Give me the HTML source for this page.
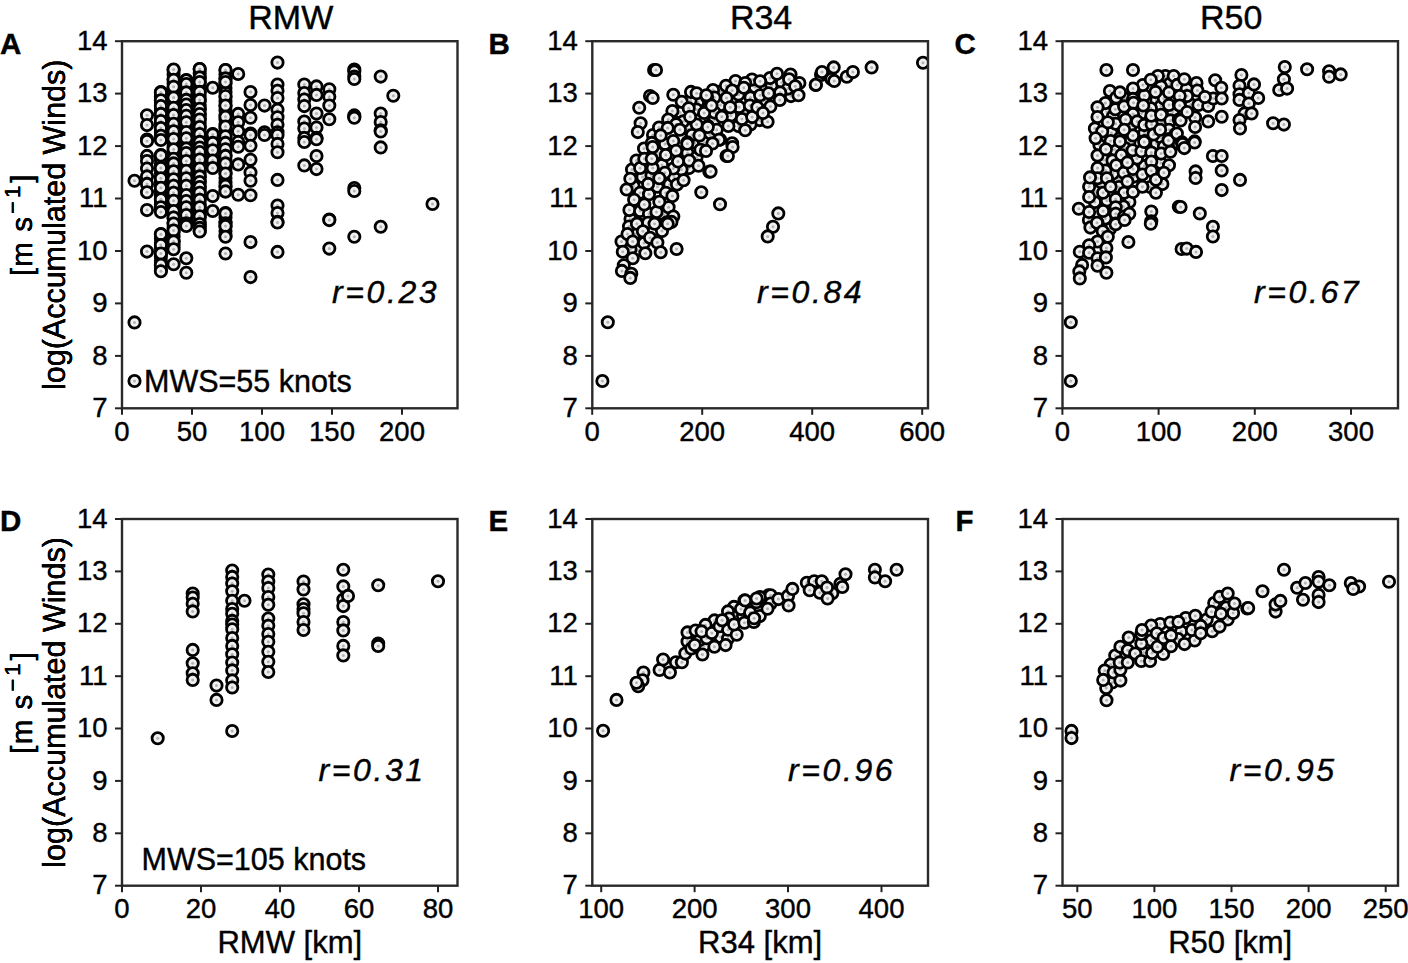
<!DOCTYPE html><html><head><meta charset="utf-8"><style>html,body{margin:0;padding:0;background:#fff;}svg{display:block;}text{font-family:"Liberation Sans",sans-serif;fill:#000;stroke:#000;stroke-width:0.4px;}</style></head><body>
<svg width="1408" height="963" viewBox="0 0 1408 963">
<defs><g id="m"><circle r="5.65" fill="#f0f0f0" stroke="#000" stroke-width="2.8"/><circle r="1.5" fill="#b4b4b4"/></g></defs>
<clipPath id="cA"><rect x="122.0" y="41.2" width="335.5" height="367.1"/></clipPath>
<g clip-path="url(#cA)">
<use href="#m" x="160.9" y="92.0"/>
<use href="#m" x="160.9" y="96.5"/>
<use href="#m" x="160.9" y="101.0"/>
<use href="#m" x="160.9" y="105.5"/>
<use href="#m" x="160.9" y="110.0"/>
<use href="#m" x="160.9" y="114.5"/>
<use href="#m" x="160.9" y="119.0"/>
<use href="#m" x="160.9" y="123.5"/>
<use href="#m" x="160.9" y="128.0"/>
<use href="#m" x="160.9" y="132.5"/>
<use href="#m" x="160.9" y="137.0"/>
<use href="#m" x="160.9" y="155.0"/>
<use href="#m" x="160.9" y="159.5"/>
<use href="#m" x="160.9" y="164.0"/>
<use href="#m" x="160.9" y="168.5"/>
<use href="#m" x="160.9" y="173.0"/>
<use href="#m" x="160.9" y="177.5"/>
<use href="#m" x="160.9" y="182.0"/>
<use href="#m" x="160.9" y="186.5"/>
<use href="#m" x="160.9" y="191.0"/>
<use href="#m" x="160.9" y="195.5"/>
<use href="#m" x="160.9" y="200.0"/>
<use href="#m" x="160.9" y="204.5"/>
<use href="#m" x="160.9" y="209.0"/>
<use href="#m" x="160.9" y="234.0"/>
<use href="#m" x="160.9" y="238.5"/>
<use href="#m" x="160.9" y="243.0"/>
<use href="#m" x="160.9" y="247.5"/>
<use href="#m" x="160.9" y="252.0"/>
<use href="#m" x="160.9" y="256.5"/>
<use href="#m" x="160.9" y="261.0"/>
<use href="#m" x="160.9" y="265.5"/>
<use href="#m" x="160.9" y="270.0"/>
<use href="#m" x="173.6" y="70.0"/>
<use href="#m" x="173.6" y="74.5"/>
<use href="#m" x="173.6" y="79.0"/>
<use href="#m" x="173.6" y="83.5"/>
<use href="#m" x="173.6" y="88.0"/>
<use href="#m" x="173.6" y="92.5"/>
<use href="#m" x="173.6" y="97.0"/>
<use href="#m" x="173.6" y="101.5"/>
<use href="#m" x="173.6" y="106.0"/>
<use href="#m" x="173.6" y="110.5"/>
<use href="#m" x="173.6" y="115.0"/>
<use href="#m" x="173.6" y="119.5"/>
<use href="#m" x="173.6" y="124.0"/>
<use href="#m" x="173.6" y="128.5"/>
<use href="#m" x="173.6" y="133.0"/>
<use href="#m" x="173.6" y="137.5"/>
<use href="#m" x="173.6" y="142.0"/>
<use href="#m" x="173.6" y="146.5"/>
<use href="#m" x="173.6" y="151.0"/>
<use href="#m" x="173.6" y="155.5"/>
<use href="#m" x="173.6" y="160.0"/>
<use href="#m" x="173.6" y="164.5"/>
<use href="#m" x="173.6" y="169.0"/>
<use href="#m" x="173.6" y="173.5"/>
<use href="#m" x="173.6" y="178.0"/>
<use href="#m" x="173.6" y="182.5"/>
<use href="#m" x="173.6" y="187.0"/>
<use href="#m" x="173.6" y="191.5"/>
<use href="#m" x="173.6" y="196.0"/>
<use href="#m" x="173.6" y="200.5"/>
<use href="#m" x="173.6" y="205.0"/>
<use href="#m" x="173.6" y="209.5"/>
<use href="#m" x="173.6" y="214.0"/>
<use href="#m" x="173.6" y="218.5"/>
<use href="#m" x="173.6" y="223.0"/>
<use href="#m" x="173.6" y="227.5"/>
<use href="#m" x="173.6" y="232.0"/>
<use href="#m" x="173.6" y="236.5"/>
<use href="#m" x="173.6" y="241.0"/>
<use href="#m" x="173.6" y="245.5"/>
<use href="#m" x="186.3" y="80.0"/>
<use href="#m" x="186.3" y="84.5"/>
<use href="#m" x="186.3" y="89.0"/>
<use href="#m" x="186.3" y="93.5"/>
<use href="#m" x="186.3" y="98.0"/>
<use href="#m" x="186.3" y="102.5"/>
<use href="#m" x="186.3" y="107.0"/>
<use href="#m" x="186.3" y="111.5"/>
<use href="#m" x="186.3" y="116.0"/>
<use href="#m" x="186.3" y="120.5"/>
<use href="#m" x="186.3" y="125.0"/>
<use href="#m" x="186.3" y="129.5"/>
<use href="#m" x="186.3" y="134.0"/>
<use href="#m" x="186.3" y="138.5"/>
<use href="#m" x="186.3" y="143.0"/>
<use href="#m" x="186.3" y="147.5"/>
<use href="#m" x="186.3" y="152.0"/>
<use href="#m" x="186.3" y="156.5"/>
<use href="#m" x="186.3" y="161.0"/>
<use href="#m" x="186.3" y="165.5"/>
<use href="#m" x="186.3" y="170.0"/>
<use href="#m" x="186.3" y="174.5"/>
<use href="#m" x="186.3" y="179.0"/>
<use href="#m" x="186.3" y="183.5"/>
<use href="#m" x="186.3" y="188.0"/>
<use href="#m" x="186.3" y="192.5"/>
<use href="#m" x="186.3" y="197.0"/>
<use href="#m" x="186.3" y="201.5"/>
<use href="#m" x="186.3" y="206.0"/>
<use href="#m" x="186.3" y="210.5"/>
<use href="#m" x="186.3" y="215.0"/>
<use href="#m" x="186.3" y="219.5"/>
<use href="#m" x="186.3" y="224.0"/>
<use href="#m" x="199.7" y="69.0"/>
<use href="#m" x="199.7" y="73.5"/>
<use href="#m" x="199.7" y="78.0"/>
<use href="#m" x="199.7" y="82.5"/>
<use href="#m" x="199.7" y="87.0"/>
<use href="#m" x="199.7" y="91.5"/>
<use href="#m" x="199.7" y="96.0"/>
<use href="#m" x="199.7" y="100.5"/>
<use href="#m" x="199.7" y="105.0"/>
<use href="#m" x="199.7" y="109.5"/>
<use href="#m" x="199.7" y="114.0"/>
<use href="#m" x="199.7" y="118.5"/>
<use href="#m" x="199.7" y="123.0"/>
<use href="#m" x="199.7" y="127.5"/>
<use href="#m" x="199.7" y="132.0"/>
<use href="#m" x="199.7" y="136.5"/>
<use href="#m" x="199.7" y="141.0"/>
<use href="#m" x="199.7" y="145.5"/>
<use href="#m" x="199.7" y="150.0"/>
<use href="#m" x="199.7" y="154.5"/>
<use href="#m" x="199.7" y="159.0"/>
<use href="#m" x="199.7" y="163.5"/>
<use href="#m" x="199.7" y="168.0"/>
<use href="#m" x="199.7" y="172.5"/>
<use href="#m" x="199.7" y="177.0"/>
<use href="#m" x="199.7" y="181.5"/>
<use href="#m" x="199.7" y="186.0"/>
<use href="#m" x="199.7" y="190.5"/>
<use href="#m" x="199.7" y="195.0"/>
<use href="#m" x="199.7" y="199.5"/>
<use href="#m" x="199.7" y="204.0"/>
<use href="#m" x="199.7" y="208.5"/>
<use href="#m" x="199.7" y="213.0"/>
<use href="#m" x="199.7" y="217.5"/>
<use href="#m" x="199.7" y="222.0"/>
<use href="#m" x="199.7" y="226.5"/>
<use href="#m" x="199.7" y="231.0"/>
<use href="#m" x="225.5" y="70.0"/>
<use href="#m" x="225.5" y="74.5"/>
<use href="#m" x="225.5" y="79.0"/>
<use href="#m" x="225.5" y="83.5"/>
<use href="#m" x="225.5" y="88.0"/>
<use href="#m" x="225.5" y="92.5"/>
<use href="#m" x="225.5" y="97.0"/>
<use href="#m" x="225.5" y="101.5"/>
<use href="#m" x="225.5" y="106.0"/>
<use href="#m" x="225.5" y="110.5"/>
<use href="#m" x="225.5" y="115.0"/>
<use href="#m" x="225.5" y="119.5"/>
<use href="#m" x="225.5" y="124.0"/>
<use href="#m" x="225.5" y="128.5"/>
<use href="#m" x="225.5" y="133.0"/>
<use href="#m" x="225.5" y="137.5"/>
<use href="#m" x="225.5" y="142.0"/>
<use href="#m" x="225.5" y="146.5"/>
<use href="#m" x="225.5" y="151.0"/>
<use href="#m" x="225.5" y="155.5"/>
<use href="#m" x="225.5" y="160.0"/>
<use href="#m" x="225.5" y="164.5"/>
<use href="#m" x="225.5" y="169.0"/>
<use href="#m" x="225.5" y="173.5"/>
<use href="#m" x="225.5" y="178.0"/>
<use href="#m" x="225.5" y="182.5"/>
<use href="#m" x="225.5" y="187.0"/>
<use href="#m" x="225.5" y="191.5"/>
<use href="#m" x="225.5" y="213.0"/>
<use href="#m" x="225.5" y="217.5"/>
<use href="#m" x="225.5" y="222.0"/>
<use href="#m" x="225.5" y="226.5"/>
<use href="#m" x="225.5" y="231.0"/>
<use href="#m" x="225.5" y="235.5"/>
<use href="#m" x="212.7" y="134.0"/>
<use href="#m" x="212.7" y="138.5"/>
<use href="#m" x="212.7" y="143.0"/>
<use href="#m" x="212.7" y="147.5"/>
<use href="#m" x="212.7" y="152.0"/>
<use href="#m" x="212.7" y="156.5"/>
<use href="#m" x="212.7" y="161.0"/>
<use href="#m" x="212.7" y="165.5"/>
<use href="#m" x="134.5" y="180.7"/>
<use href="#m" x="134.5" y="322.4"/>
<use href="#m" x="134.5" y="381.0"/>
<use href="#m" x="147.0" y="115.3"/>
<use href="#m" x="147.0" y="125.1"/>
<use href="#m" x="147.0" y="139.6"/>
<use href="#m" x="147.0" y="140.9"/>
<use href="#m" x="147.0" y="155.9"/>
<use href="#m" x="147.0" y="161.0"/>
<use href="#m" x="147.0" y="168.5"/>
<use href="#m" x="147.0" y="176.4"/>
<use href="#m" x="147.0" y="183.9"/>
<use href="#m" x="147.0" y="192.3"/>
<use href="#m" x="147.0" y="210.1"/>
<use href="#m" x="147.0" y="251.6"/>
<use href="#m" x="160.9" y="92.4"/>
<use href="#m" x="160.9" y="100.3"/>
<use href="#m" x="160.9" y="106.0"/>
<use href="#m" x="160.9" y="113.9"/>
<use href="#m" x="160.9" y="121.0"/>
<use href="#m" x="160.9" y="128.0"/>
<use href="#m" x="160.9" y="135.8"/>
<use href="#m" x="160.9" y="140.0"/>
<use href="#m" x="160.9" y="155.4"/>
<use href="#m" x="160.9" y="168.0"/>
<use href="#m" x="160.9" y="178.3"/>
<use href="#m" x="160.9" y="187.7"/>
<use href="#m" x="160.9" y="199.3"/>
<use href="#m" x="160.9" y="207.3"/>
<use href="#m" x="160.9" y="212.0"/>
<use href="#m" x="160.9" y="234.3"/>
<use href="#m" x="160.9" y="245.1"/>
<use href="#m" x="160.9" y="253.5"/>
<use href="#m" x="160.9" y="264.7"/>
<use href="#m" x="160.9" y="271.3"/>
<use href="#m" x="173.6" y="69.5"/>
<use href="#m" x="173.6" y="79.8"/>
<use href="#m" x="173.6" y="86.8"/>
<use href="#m" x="173.6" y="97.5"/>
<use href="#m" x="173.6" y="107.8"/>
<use href="#m" x="173.6" y="115.0"/>
<use href="#m" x="173.6" y="123.7"/>
<use href="#m" x="173.6" y="131.2"/>
<use href="#m" x="173.6" y="139.1"/>
<use href="#m" x="173.6" y="149.3"/>
<use href="#m" x="173.6" y="158.7"/>
<use href="#m" x="173.6" y="163.4"/>
<use href="#m" x="173.6" y="171.3"/>
<use href="#m" x="173.6" y="179.3"/>
<use href="#m" x="173.6" y="185.8"/>
<use href="#m" x="173.6" y="192.8"/>
<use href="#m" x="173.6" y="200.7"/>
<use href="#m" x="173.6" y="211.0"/>
<use href="#m" x="173.6" y="217.6"/>
<use href="#m" x="173.6" y="223.6"/>
<use href="#m" x="173.6" y="230.6"/>
<use href="#m" x="173.6" y="241.4"/>
<use href="#m" x="173.6" y="249.3"/>
<use href="#m" x="173.6" y="264.3"/>
<use href="#m" x="186.3" y="80.2"/>
<use href="#m" x="186.3" y="84.0"/>
<use href="#m" x="186.3" y="92.4"/>
<use href="#m" x="186.3" y="99.9"/>
<use href="#m" x="186.3" y="104.5"/>
<use href="#m" x="186.3" y="110.0"/>
<use href="#m" x="186.3" y="115.7"/>
<use href="#m" x="186.3" y="122.3"/>
<use href="#m" x="186.3" y="132.1"/>
<use href="#m" x="186.3" y="138.2"/>
<use href="#m" x="186.3" y="148.4"/>
<use href="#m" x="186.3" y="153.1"/>
<use href="#m" x="186.3" y="161.0"/>
<use href="#m" x="186.3" y="170.8"/>
<use href="#m" x="186.3" y="178.3"/>
<use href="#m" x="186.3" y="185.8"/>
<use href="#m" x="186.3" y="195.1"/>
<use href="#m" x="186.3" y="201.0"/>
<use href="#m" x="186.3" y="207.3"/>
<use href="#m" x="186.3" y="215.0"/>
<use href="#m" x="186.3" y="223.2"/>
<use href="#m" x="186.3" y="225.9"/>
<use href="#m" x="186.3" y="258.2"/>
<use href="#m" x="186.3" y="272.7"/>
<use href="#m" x="199.7" y="69.0"/>
<use href="#m" x="199.7" y="77.4"/>
<use href="#m" x="199.7" y="82.1"/>
<use href="#m" x="199.7" y="91.9"/>
<use href="#m" x="199.7" y="99.9"/>
<use href="#m" x="199.7" y="108.7"/>
<use href="#m" x="199.7" y="114.0"/>
<use href="#m" x="199.7" y="119.5"/>
<use href="#m" x="199.7" y="127.0"/>
<use href="#m" x="199.7" y="134.0"/>
<use href="#m" x="199.7" y="141.9"/>
<use href="#m" x="199.7" y="147.5"/>
<use href="#m" x="199.7" y="152.1"/>
<use href="#m" x="199.7" y="159.6"/>
<use href="#m" x="199.7" y="168.5"/>
<use href="#m" x="199.7" y="176.4"/>
<use href="#m" x="199.7" y="182.1"/>
<use href="#m" x="199.7" y="187.0"/>
<use href="#m" x="199.7" y="192.8"/>
<use href="#m" x="199.7" y="199.8"/>
<use href="#m" x="199.7" y="207.3"/>
<use href="#m" x="199.7" y="216.2"/>
<use href="#m" x="199.7" y="224.1"/>
<use href="#m" x="199.7" y="227.9"/>
<use href="#m" x="199.7" y="231.5"/>
<use href="#m" x="212.7" y="87.7"/>
<use href="#m" x="212.7" y="134.4"/>
<use href="#m" x="212.7" y="142.9"/>
<use href="#m" x="212.7" y="150.3"/>
<use href="#m" x="212.7" y="160.6"/>
<use href="#m" x="212.7" y="168.0"/>
<use href="#m" x="212.7" y="196.1"/>
<use href="#m" x="212.7" y="211.0"/>
<use href="#m" x="225.5" y="70.0"/>
<use href="#m" x="225.5" y="78.4"/>
<use href="#m" x="225.5" y="82.1"/>
<use href="#m" x="225.5" y="96.1"/>
<use href="#m" x="225.5" y="105.5"/>
<use href="#m" x="225.5" y="116.7"/>
<use href="#m" x="225.5" y="126.5"/>
<use href="#m" x="225.5" y="136.3"/>
<use href="#m" x="225.5" y="142.9"/>
<use href="#m" x="225.5" y="149.3"/>
<use href="#m" x="225.5" y="155.9"/>
<use href="#m" x="225.5" y="163.4"/>
<use href="#m" x="225.5" y="173.6"/>
<use href="#m" x="225.5" y="185.8"/>
<use href="#m" x="225.5" y="191.4"/>
<use href="#m" x="225.5" y="213.4"/>
<use href="#m" x="225.5" y="223.2"/>
<use href="#m" x="225.5" y="225.9"/>
<use href="#m" x="225.5" y="236.7"/>
<use href="#m" x="225.5" y="253.5"/>
<use href="#m" x="238.2" y="74.0"/>
<use href="#m" x="238.2" y="113.9"/>
<use href="#m" x="238.2" y="122.3"/>
<use href="#m" x="238.2" y="131.2"/>
<use href="#m" x="238.2" y="141.9"/>
<use href="#m" x="238.2" y="146.7"/>
<use href="#m" x="238.2" y="164.4"/>
<use href="#m" x="238.2" y="194.8"/>
<use href="#m" x="250.5" y="92.1"/>
<use href="#m" x="250.5" y="105.1"/>
<use href="#m" x="250.5" y="117.8"/>
<use href="#m" x="250.5" y="133.6"/>
<use href="#m" x="250.5" y="135.0"/>
<use href="#m" x="250.5" y="145.7"/>
<use href="#m" x="250.5" y="159.8"/>
<use href="#m" x="250.5" y="172.4"/>
<use href="#m" x="250.5" y="180.8"/>
<use href="#m" x="250.5" y="195.3"/>
<use href="#m" x="250.5" y="242.1"/>
<use href="#m" x="250.5" y="277.1"/>
<use href="#m" x="264.5" y="105.6"/>
<use href="#m" x="264.5" y="132.2"/>
<use href="#m" x="264.5" y="135.0"/>
<use href="#m" x="277.5" y="62.6"/>
<use href="#m" x="277.5" y="84.6"/>
<use href="#m" x="277.5" y="90.7"/>
<use href="#m" x="277.5" y="98.1"/>
<use href="#m" x="277.5" y="109.8"/>
<use href="#m" x="277.5" y="117.3"/>
<use href="#m" x="277.5" y="124.8"/>
<use href="#m" x="277.5" y="132.2"/>
<use href="#m" x="277.5" y="135.0"/>
<use href="#m" x="277.5" y="143.9"/>
<use href="#m" x="277.5" y="152.3"/>
<use href="#m" x="277.5" y="179.9"/>
<use href="#m" x="277.5" y="205.6"/>
<use href="#m" x="277.5" y="213.0"/>
<use href="#m" x="277.5" y="221.9"/>
<use href="#m" x="277.5" y="222.5"/>
<use href="#m" x="277.5" y="251.9"/>
<use href="#m" x="304.3" y="84.6"/>
<use href="#m" x="304.3" y="93.0"/>
<use href="#m" x="304.3" y="99.5"/>
<use href="#m" x="304.3" y="106.1"/>
<use href="#m" x="304.3" y="121.5"/>
<use href="#m" x="304.3" y="128.5"/>
<use href="#m" x="304.3" y="137.9"/>
<use href="#m" x="304.3" y="142.0"/>
<use href="#m" x="304.3" y="165.4"/>
<use href="#m" x="316.5" y="86.4"/>
<use href="#m" x="316.5" y="94.9"/>
<use href="#m" x="316.5" y="113.6"/>
<use href="#m" x="316.5" y="127.6"/>
<use href="#m" x="316.5" y="137.9"/>
<use href="#m" x="316.5" y="139.2"/>
<use href="#m" x="316.5" y="156.0"/>
<use href="#m" x="316.5" y="169.1"/>
<use href="#m" x="329.3" y="89.3"/>
<use href="#m" x="329.3" y="96.7"/>
<use href="#m" x="329.3" y="105.6"/>
<use href="#m" x="329.3" y="119.2"/>
<use href="#m" x="329.3" y="219.6"/>
<use href="#m" x="329.3" y="220.1"/>
<use href="#m" x="329.3" y="248.6"/>
<use href="#m" x="354.3" y="69.6"/>
<use href="#m" x="354.3" y="71.5"/>
<use href="#m" x="354.3" y="76.6"/>
<use href="#m" x="354.3" y="79.0"/>
<use href="#m" x="354.3" y="115.4"/>
<use href="#m" x="354.3" y="116.8"/>
<use href="#m" x="354.3" y="117.8"/>
<use href="#m" x="354.3" y="188.1"/>
<use href="#m" x="354.3" y="191.0"/>
<use href="#m" x="354.3" y="236.8"/>
<use href="#m" x="380.7" y="76.6"/>
<use href="#m" x="380.7" y="113.6"/>
<use href="#m" x="380.7" y="122.0"/>
<use href="#m" x="380.7" y="130.4"/>
<use href="#m" x="380.7" y="131.5"/>
<use href="#m" x="380.7" y="147.4"/>
<use href="#m" x="380.7" y="226.7"/>
<use href="#m" x="393.3" y="95.8"/>
<use href="#m" x="432.5" y="204.0"/>
</g>
<rect x="122.0" y="41.2" width="335.5" height="367.1" fill="none" stroke="#2a2a2a" stroke-width="2.4"/>
<line x1="115.0" y1="408.3" x2="122.0" y2="408.3" stroke="#222" stroke-width="2"/>
<text x="107.5" y="416.9" font-size="27.5" text-anchor="end">7</text>
<line x1="115.0" y1="355.9" x2="122.0" y2="355.9" stroke="#222" stroke-width="2"/>
<text x="107.5" y="364.5" font-size="27.5" text-anchor="end">8</text>
<line x1="115.0" y1="303.4" x2="122.0" y2="303.4" stroke="#222" stroke-width="2"/>
<text x="107.5" y="312.0" font-size="27.5" text-anchor="end">9</text>
<line x1="115.0" y1="251.0" x2="122.0" y2="251.0" stroke="#222" stroke-width="2"/>
<text x="107.5" y="259.6" font-size="27.5" text-anchor="end">10</text>
<line x1="115.0" y1="198.5" x2="122.0" y2="198.5" stroke="#222" stroke-width="2"/>
<text x="107.5" y="207.1" font-size="27.5" text-anchor="end">11</text>
<line x1="115.0" y1="146.1" x2="122.0" y2="146.1" stroke="#222" stroke-width="2"/>
<text x="107.5" y="154.7" font-size="27.5" text-anchor="end">12</text>
<line x1="115.0" y1="93.6" x2="122.0" y2="93.6" stroke="#222" stroke-width="2"/>
<text x="107.5" y="102.2" font-size="27.5" text-anchor="end">13</text>
<line x1="115.0" y1="41.2" x2="122.0" y2="41.2" stroke="#222" stroke-width="2"/>
<text x="107.5" y="49.8" font-size="27.5" text-anchor="end">14</text>
<line x1="122.0" y1="408.3" x2="122.0" y2="414.8" stroke="#222" stroke-width="2"/>
<text x="122.0" y="440.6" font-size="27.5" text-anchor="middle">0</text>
<line x1="192.0" y1="408.3" x2="192.0" y2="414.8" stroke="#222" stroke-width="2"/>
<text x="192.0" y="440.6" font-size="27.5" text-anchor="middle">50</text>
<line x1="262.0" y1="408.3" x2="262.0" y2="414.8" stroke="#222" stroke-width="2"/>
<text x="262.0" y="440.6" font-size="27.5" text-anchor="middle">100</text>
<line x1="332.0" y1="408.3" x2="332.0" y2="414.8" stroke="#222" stroke-width="2"/>
<text x="332.0" y="440.6" font-size="27.5" text-anchor="middle">150</text>
<line x1="402.0" y1="408.3" x2="402.0" y2="414.8" stroke="#222" stroke-width="2"/>
<text x="402.0" y="440.6" font-size="27.5" text-anchor="middle">200</text>
<text transform="translate(64.5,224.8) rotate(-90)" font-size="30.5" text-anchor="middle" style="stroke-width:0.1px">log(Accumulated Winds)</text>
<text transform="translate(31.5,224.8) rotate(-90)" font-size="29.5" text-anchor="middle" letter-spacing="1.1" style="stroke-width:0.1px">[m s<tspan font-size="22" dy="-11.5" dx="2" letter-spacing="3">−1</tspan><tspan dy="11.5" dx="0">]</tspan></text>
<clipPath id="cB"><rect x="592.3" y="41.2" width="335.7" height="367.1"/></clipPath>
<g clip-path="url(#cB)">
<use href="#m" x="720.5" y="105.1"/>
<use href="#m" x="791.0" y="96.1"/>
<use href="#m" x="638.0" y="250.6"/>
<use href="#m" x="687.5" y="153.1"/>
<use href="#m" x="669.5" y="184.6"/>
<use href="#m" x="695.0" y="142.6"/>
<use href="#m" x="680.0" y="112.6"/>
<use href="#m" x="689.0" y="168.1"/>
<use href="#m" x="662.0" y="231.1"/>
<use href="#m" x="750.5" y="97.6"/>
<use href="#m" x="720.5" y="91.6"/>
<use href="#m" x="665.0" y="144.1"/>
<use href="#m" x="731.0" y="115.6"/>
<use href="#m" x="738.5" y="126.1"/>
<use href="#m" x="662.0" y="165.1"/>
<use href="#m" x="657.5" y="153.1"/>
<use href="#m" x="759.5" y="120.1"/>
<use href="#m" x="710.0" y="135.1"/>
<use href="#m" x="621.5" y="241.6"/>
<use href="#m" x="698.0" y="102.1"/>
<use href="#m" x="755.0" y="87.1"/>
<use href="#m" x="771.5" y="85.6"/>
<use href="#m" x="630.5" y="219.1"/>
<use href="#m" x="782.0" y="82.6"/>
<use href="#m" x="714.5" y="120.1"/>
<use href="#m" x="687.5" y="129.1"/>
<use href="#m" x="704.0" y="142.6"/>
<use href="#m" x="642.5" y="177.1"/>
<use href="#m" x="635.0" y="234.1"/>
<use href="#m" x="713.0" y="90.1"/>
<use href="#m" x="644.0" y="243.1"/>
<use href="#m" x="735.5" y="81.1"/>
<use href="#m" x="746.0" y="112.6"/>
<use href="#m" x="734.0" y="100.6"/>
<use href="#m" x="644.0" y="148.6"/>
<use href="#m" x="770.0" y="78.1"/>
<use href="#m" x="633.5" y="186.1"/>
<use href="#m" x="696.5" y="109.6"/>
<use href="#m" x="750.5" y="124.6"/>
<use href="#m" x="630.5" y="249.1"/>
<use href="#m" x="653.0" y="135.1"/>
<use href="#m" x="674.0" y="177.1"/>
<use href="#m" x="659.0" y="127.6"/>
<use href="#m" x="714.5" y="97.6"/>
<use href="#m" x="651.5" y="175.6"/>
<use href="#m" x="681.5" y="169.6"/>
<use href="#m" x="696.5" y="157.6"/>
<use href="#m" x="663.5" y="214.6"/>
<use href="#m" x="632.0" y="169.6"/>
<use href="#m" x="738.5" y="94.6"/>
<use href="#m" x="677.0" y="184.6"/>
<use href="#m" x="629.0" y="226.6"/>
<use href="#m" x="692.0" y="135.1"/>
<use href="#m" x="752.0" y="79.6"/>
<use href="#m" x="765.5" y="100.6"/>
<use href="#m" x="714.5" y="112.6"/>
<use href="#m" x="636.5" y="160.6"/>
<use href="#m" x="788.0" y="88.6"/>
<use href="#m" x="690.5" y="100.6"/>
<use href="#m" x="654.1" y="70.0"/>
<use href="#m" x="656.0" y="70.0"/>
<use href="#m" x="650.0" y="96.1"/>
<use href="#m" x="652.7" y="98.0"/>
<use href="#m" x="639.2" y="107.8"/>
<use href="#m" x="640.6" y="123.2"/>
<use href="#m" x="637.8" y="132.1"/>
<use href="#m" x="673.3" y="94.7"/>
<use href="#m" x="681.7" y="101.7"/>
<use href="#m" x="691.0" y="91.9"/>
<use href="#m" x="696.7" y="93.3"/>
<use href="#m" x="688.7" y="108.3"/>
<use href="#m" x="707.0" y="97.1"/>
<use href="#m" x="710.2" y="105.0"/>
<use href="#m" x="672.4" y="111.1"/>
<use href="#m" x="668.2" y="119.5"/>
<use href="#m" x="683.1" y="121.4"/>
<use href="#m" x="676.1" y="124.2"/>
<use href="#m" x="696.7" y="124.6"/>
<use href="#m" x="707.9" y="126.0"/>
<use href="#m" x="667.7" y="127.9"/>
<use href="#m" x="660.7" y="135.4"/>
<use href="#m" x="673.3" y="141.0"/>
<use href="#m" x="687.3" y="142.4"/>
<use href="#m" x="699.5" y="135.4"/>
<use href="#m" x="704.1" y="113.0"/>
<use href="#m" x="651.8" y="142.9"/>
<use href="#m" x="690.1" y="116.7"/>
<use href="#m" x="679.9" y="129.8"/>
<use href="#m" x="652.7" y="147.0"/>
<use href="#m" x="665.8" y="155.0"/>
<use href="#m" x="676.1" y="150.7"/>
<use href="#m" x="687.3" y="143.7"/>
<use href="#m" x="700.4" y="149.8"/>
<use href="#m" x="689.2" y="160.6"/>
<use href="#m" x="698.5" y="165.7"/>
<use href="#m" x="709.3" y="171.8"/>
<use href="#m" x="640.1" y="168.0"/>
<use href="#m" x="652.7" y="168.0"/>
<use href="#m" x="673.3" y="168.5"/>
<use href="#m" x="664.9" y="172.7"/>
<use href="#m" x="630.3" y="178.8"/>
<use href="#m" x="683.6" y="180.2"/>
<use href="#m" x="626.6" y="189.5"/>
<use href="#m" x="640.1" y="192.8"/>
<use href="#m" x="649.0" y="194.2"/>
<use href="#m" x="657.4" y="186.7"/>
<use href="#m" x="665.8" y="192.8"/>
<use href="#m" x="672.4" y="196.1"/>
<use href="#m" x="648.1" y="183.9"/>
<use href="#m" x="659.3" y="178.3"/>
<use href="#m" x="701.3" y="192.3"/>
<use href="#m" x="629.4" y="210.1"/>
<use href="#m" x="640.1" y="211.0"/>
<use href="#m" x="649.0" y="213.8"/>
<use href="#m" x="656.5" y="211.9"/>
<use href="#m" x="668.6" y="207.3"/>
<use href="#m" x="673.3" y="216.6"/>
<use href="#m" x="666.8" y="222.2"/>
<use href="#m" x="637.8" y="223.2"/>
<use href="#m" x="651.8" y="222.2"/>
<use href="#m" x="644.3" y="158.7"/>
<use href="#m" x="651.8" y="158.7"/>
<use href="#m" x="678.0" y="161.5"/>
<use href="#m" x="634.1" y="199.8"/>
<use href="#m" x="644.3" y="204.5"/>
<use href="#m" x="659.3" y="201.7"/>
<use href="#m" x="636.9" y="223.7"/>
<use href="#m" x="648.1" y="222.8"/>
<use href="#m" x="654.6" y="223.7"/>
<use href="#m" x="671.4" y="221.9"/>
<use href="#m" x="667.7" y="223.7"/>
<use href="#m" x="627.5" y="234.0"/>
<use href="#m" x="642.9" y="231.2"/>
<use href="#m" x="650.0" y="237.8"/>
<use href="#m" x="657.4" y="242.4"/>
<use href="#m" x="632.7" y="241.5"/>
<use href="#m" x="622.8" y="251.8"/>
<use href="#m" x="632.7" y="258.3"/>
<use href="#m" x="645.3" y="253.2"/>
<use href="#m" x="660.7" y="252.2"/>
<use href="#m" x="676.6" y="249.0"/>
<use href="#m" x="623.8" y="265.3"/>
<use href="#m" x="621.9" y="270.9"/>
<use href="#m" x="631.3" y="273.7"/>
<use href="#m" x="630.3" y="277.9"/>
<use href="#m" x="607.8" y="322.3"/>
<use href="#m" x="602.4" y="381.0"/>
<use href="#m" x="777.0" y="73.7"/>
<use href="#m" x="790.5" y="74.6"/>
<use href="#m" x="799.4" y="83.0"/>
<use href="#m" x="821.4" y="73.7"/>
<use href="#m" x="815.7" y="84.9"/>
<use href="#m" x="760.1" y="81.2"/>
<use href="#m" x="745.2" y="83.0"/>
<use href="#m" x="743.8" y="87.7"/>
<use href="#m" x="726.0" y="85.8"/>
<use href="#m" x="732.1" y="90.5"/>
<use href="#m" x="726.5" y="98.0"/>
<use href="#m" x="711.5" y="105.5"/>
<use href="#m" x="706.4" y="95.2"/>
<use href="#m" x="739.1" y="106.9"/>
<use href="#m" x="749.9" y="105.5"/>
<use href="#m" x="760.1" y="95.2"/>
<use href="#m" x="768.6" y="93.3"/>
<use href="#m" x="780.2" y="92.4"/>
<use href="#m" x="789.1" y="79.3"/>
<use href="#m" x="795.2" y="86.3"/>
<use href="#m" x="798.5" y="95.2"/>
<use href="#m" x="770.4" y="106.4"/>
<use href="#m" x="779.8" y="99.9"/>
<use href="#m" x="721.8" y="116.7"/>
<use href="#m" x="741.9" y="119.0"/>
<use href="#m" x="752.2" y="117.1"/>
<use href="#m" x="728.4" y="126.0"/>
<use href="#m" x="716.7" y="129.8"/>
<use href="#m" x="745.2" y="130.2"/>
<use href="#m" x="767.6" y="121.8"/>
<use href="#m" x="707.8" y="126.9"/>
<use href="#m" x="720.0" y="139.6"/>
<use href="#m" x="732.1" y="143.3"/>
<use href="#m" x="730.2" y="107.3"/>
<use href="#m" x="757.3" y="107.3"/>
<use href="#m" x="763.0" y="113.0"/>
<use href="#m" x="719.0" y="139.7"/>
<use href="#m" x="712.5" y="143.4"/>
<use href="#m" x="732.6" y="147.1"/>
<use href="#m" x="726.5" y="156.0"/>
<use href="#m" x="727.9" y="156.0"/>
<use href="#m" x="710.6" y="171.4"/>
<use href="#m" x="720.0" y="204.2"/>
<use href="#m" x="706.0" y="150.9"/>
<use href="#m" x="778.3" y="213.4"/>
<use href="#m" x="773.0" y="226.8"/>
<use href="#m" x="767.7" y="236.4"/>
<use href="#m" x="815.9" y="84.7"/>
<use href="#m" x="821.1" y="74.9"/>
<use href="#m" x="822.0" y="72.1"/>
<use href="#m" x="833.7" y="67.4"/>
<use href="#m" x="831.4" y="79.1"/>
<use href="#m" x="834.2" y="81.0"/>
<use href="#m" x="846.8" y="76.8"/>
<use href="#m" x="852.9" y="72.1"/>
<use href="#m" x="871.6" y="67.4"/>
<use href="#m" x="923.0" y="62.8"/>
</g>
<rect x="592.3" y="41.2" width="335.7" height="367.1" fill="none" stroke="#2a2a2a" stroke-width="2.4"/>
<line x1="585.3" y1="408.3" x2="592.3" y2="408.3" stroke="#222" stroke-width="2"/>
<text x="577.8" y="416.9" font-size="27.5" text-anchor="end">7</text>
<line x1="585.3" y1="355.9" x2="592.3" y2="355.9" stroke="#222" stroke-width="2"/>
<text x="577.8" y="364.5" font-size="27.5" text-anchor="end">8</text>
<line x1="585.3" y1="303.4" x2="592.3" y2="303.4" stroke="#222" stroke-width="2"/>
<text x="577.8" y="312.0" font-size="27.5" text-anchor="end">9</text>
<line x1="585.3" y1="251.0" x2="592.3" y2="251.0" stroke="#222" stroke-width="2"/>
<text x="577.8" y="259.6" font-size="27.5" text-anchor="end">10</text>
<line x1="585.3" y1="198.5" x2="592.3" y2="198.5" stroke="#222" stroke-width="2"/>
<text x="577.8" y="207.1" font-size="27.5" text-anchor="end">11</text>
<line x1="585.3" y1="146.1" x2="592.3" y2="146.1" stroke="#222" stroke-width="2"/>
<text x="577.8" y="154.7" font-size="27.5" text-anchor="end">12</text>
<line x1="585.3" y1="93.6" x2="592.3" y2="93.6" stroke="#222" stroke-width="2"/>
<text x="577.8" y="102.2" font-size="27.5" text-anchor="end">13</text>
<line x1="585.3" y1="41.2" x2="592.3" y2="41.2" stroke="#222" stroke-width="2"/>
<text x="577.8" y="49.8" font-size="27.5" text-anchor="end">14</text>
<line x1="592.2" y1="408.3" x2="592.2" y2="414.8" stroke="#222" stroke-width="2"/>
<text x="592.2" y="440.6" font-size="27.5" text-anchor="middle">0</text>
<line x1="702.2" y1="408.3" x2="702.2" y2="414.8" stroke="#222" stroke-width="2"/>
<text x="702.2" y="440.6" font-size="27.5" text-anchor="middle">200</text>
<line x1="812.2" y1="408.3" x2="812.2" y2="414.8" stroke="#222" stroke-width="2"/>
<text x="812.2" y="440.6" font-size="27.5" text-anchor="middle">400</text>
<line x1="922.2" y1="408.3" x2="922.2" y2="414.8" stroke="#222" stroke-width="2"/>
<text x="922.2" y="440.6" font-size="27.5" text-anchor="middle">600</text>
<text transform="translate(64.5,224.8) rotate(-90)" font-size="30.5" text-anchor="middle" style="stroke-width:0.1px">log(Accumulated Winds)</text>
<text transform="translate(31.5,224.8) rotate(-90)" font-size="29.5" text-anchor="middle" letter-spacing="1.1" style="stroke-width:0.1px">[m s<tspan font-size="22" dy="-11.5" dx="2" letter-spacing="3">−1</tspan><tspan dy="11.5" dx="0">]</tspan></text>
<clipPath id="cC"><rect x="1062.5" y="41.2" width="335.5" height="367.1"/></clipPath>
<g clip-path="url(#cC)">
<use href="#m" x="1109.9" y="91.1"/>
<use href="#m" x="1106.9" y="112.1"/>
<use href="#m" x="1105.4" y="218.6"/>
<use href="#m" x="1165.4" y="76.1"/>
<use href="#m" x="1144.4" y="166.1"/>
<use href="#m" x="1088.9" y="220.1"/>
<use href="#m" x="1144.4" y="95.6"/>
<use href="#m" x="1150.4" y="187.1"/>
<use href="#m" x="1129.4" y="202.1"/>
<use href="#m" x="1106.9" y="200.6"/>
<use href="#m" x="1111.4" y="133.1"/>
<use href="#m" x="1094.9" y="202.1"/>
<use href="#m" x="1103.9" y="160.1"/>
<use href="#m" x="1169.9" y="83.6"/>
<use href="#m" x="1118.9" y="179.6"/>
<use href="#m" x="1141.4" y="113.6"/>
<use href="#m" x="1105.4" y="103.1"/>
<use href="#m" x="1156.4" y="100.1"/>
<use href="#m" x="1160.9" y="86.6"/>
<use href="#m" x="1142.9" y="85.1"/>
<use href="#m" x="1136.9" y="158.6"/>
<use href="#m" x="1160.9" y="163.1"/>
<use href="#m" x="1133.9" y="176.6"/>
<use href="#m" x="1112.9" y="173.6"/>
<use href="#m" x="1129.4" y="142.1"/>
<use href="#m" x="1172.9" y="112.1"/>
<use href="#m" x="1156.4" y="143.6"/>
<use href="#m" x="1162.4" y="184.1"/>
<use href="#m" x="1162.4" y="122.6"/>
<use href="#m" x="1114.4" y="149.6"/>
<use href="#m" x="1144.4" y="133.1"/>
<use href="#m" x="1094.9" y="128.6"/>
<use href="#m" x="1124.9" y="98.6"/>
<use href="#m" x="1130.9" y="125.6"/>
<use href="#m" x="1105.4" y="170.6"/>
<use href="#m" x="1099.4" y="145.1"/>
<use href="#m" x="1100.9" y="185.6"/>
<use href="#m" x="1160.9" y="106.1"/>
<use href="#m" x="1094.9" y="191.6"/>
<use href="#m" x="1112.9" y="116.6"/>
<use href="#m" x="1160.9" y="137.6"/>
<use href="#m" x="1157.9" y="76.1"/>
<use href="#m" x="1123.4" y="206.6"/>
<use href="#m" x="1163.9" y="146.6"/>
<use href="#m" x="1124.9" y="148.1"/>
<use href="#m" x="1109.9" y="229.1"/>
<use href="#m" x="1090.4" y="227.6"/>
<use href="#m" x="1190.9" y="104.6"/>
<use href="#m" x="1163.9" y="98.6"/>
<use href="#m" x="1118.9" y="187.1"/>
<use href="#m" x="1106.4" y="70.0"/>
<use href="#m" x="1133.0" y="70.0"/>
<use href="#m" x="1150.8" y="79.8"/>
<use href="#m" x="1173.7" y="76.0"/>
<use href="#m" x="1177.9" y="84.9"/>
<use href="#m" x="1133.0" y="88.6"/>
<use href="#m" x="1116.2" y="97.5"/>
<use href="#m" x="1120.0" y="92.4"/>
<use href="#m" x="1155.5" y="91.9"/>
<use href="#m" x="1169.0" y="92.4"/>
<use href="#m" x="1097.5" y="107.3"/>
<use href="#m" x="1097.5" y="117.1"/>
<use href="#m" x="1115.3" y="109.2"/>
<use href="#m" x="1124.1" y="106.4"/>
<use href="#m" x="1133.0" y="98.9"/>
<use href="#m" x="1133.5" y="102.7"/>
<use href="#m" x="1150.8" y="108.3"/>
<use href="#m" x="1143.3" y="105.5"/>
<use href="#m" x="1169.0" y="105.0"/>
<use href="#m" x="1178.8" y="104.5"/>
<use href="#m" x="1179.8" y="96.1"/>
<use href="#m" x="1133.0" y="113.9"/>
<use href="#m" x="1115.7" y="123.7"/>
<use href="#m" x="1125.6" y="119.5"/>
<use href="#m" x="1137.2" y="121.4"/>
<use href="#m" x="1144.2" y="125.1"/>
<use href="#m" x="1151.7" y="124.6"/>
<use href="#m" x="1151.3" y="115.7"/>
<use href="#m" x="1161.1" y="114.8"/>
<use href="#m" x="1170.4" y="120.4"/>
<use href="#m" x="1178.8" y="119.5"/>
<use href="#m" x="1169.0" y="129.8"/>
<use href="#m" x="1175.6" y="134.0"/>
<use href="#m" x="1102.2" y="131.6"/>
<use href="#m" x="1095.6" y="138.2"/>
<use href="#m" x="1107.8" y="122.3"/>
<use href="#m" x="1119.5" y="138.6"/>
<use href="#m" x="1133.0" y="135.4"/>
<use href="#m" x="1144.7" y="141.0"/>
<use href="#m" x="1153.6" y="134.4"/>
<use href="#m" x="1160.1" y="129.8"/>
<use href="#m" x="1169.0" y="139.1"/>
<use href="#m" x="1178.8" y="141.9"/>
<use href="#m" x="1110.6" y="141.0"/>
<use href="#m" x="1124.1" y="129.8"/>
<use href="#m" x="1097.5" y="155.4"/>
<use href="#m" x="1097.5" y="168.0"/>
<use href="#m" x="1097.5" y="178.3"/>
<use href="#m" x="1089.1" y="186.7"/>
<use href="#m" x="1089.1" y="197.0"/>
<use href="#m" x="1078.8" y="208.7"/>
<use href="#m" x="1089.1" y="212.0"/>
<use href="#m" x="1097.5" y="222.7"/>
<use href="#m" x="1103.1" y="192.8"/>
<use href="#m" x="1103.1" y="211.0"/>
<use href="#m" x="1106.9" y="178.3"/>
<use href="#m" x="1110.6" y="186.7"/>
<use href="#m" x="1105.9" y="149.3"/>
<use href="#m" x="1112.5" y="160.6"/>
<use href="#m" x="1116.2" y="165.2"/>
<use href="#m" x="1121.3" y="155.0"/>
<use href="#m" x="1120.0" y="141.4"/>
<use href="#m" x="1123.7" y="172.7"/>
<use href="#m" x="1127.4" y="181.6"/>
<use href="#m" x="1124.1" y="192.8"/>
<use href="#m" x="1133.0" y="191.9"/>
<use href="#m" x="1115.7" y="198.9"/>
<use href="#m" x="1115.7" y="207.3"/>
<use href="#m" x="1115.7" y="213.8"/>
<use href="#m" x="1115.7" y="223.6"/>
<use href="#m" x="1124.1" y="216.6"/>
<use href="#m" x="1129.3" y="213.8"/>
<use href="#m" x="1132.6" y="150.3"/>
<use href="#m" x="1133.0" y="169.0"/>
<use href="#m" x="1127.4" y="162.4"/>
<use href="#m" x="1141.4" y="151.2"/>
<use href="#m" x="1144.2" y="141.9"/>
<use href="#m" x="1142.4" y="174.6"/>
<use href="#m" x="1142.4" y="186.7"/>
<use href="#m" x="1151.3" y="152.6"/>
<use href="#m" x="1151.3" y="161.5"/>
<use href="#m" x="1151.3" y="170.8"/>
<use href="#m" x="1155.9" y="179.7"/>
<use href="#m" x="1155.9" y="192.8"/>
<use href="#m" x="1161.1" y="153.6"/>
<use href="#m" x="1170.4" y="151.7"/>
<use href="#m" x="1169.0" y="165.2"/>
<use href="#m" x="1163.9" y="172.7"/>
<use href="#m" x="1151.3" y="211.5"/>
<use href="#m" x="1151.3" y="221.3"/>
<use href="#m" x="1178.8" y="206.8"/>
<use href="#m" x="1178.8" y="143.7"/>
<use href="#m" x="1168.5" y="140.5"/>
<use href="#m" x="1090.0" y="177.4"/>
<use href="#m" x="1097.0" y="222.8"/>
<use href="#m" x="1115.7" y="224.2"/>
<use href="#m" x="1124.6" y="220.0"/>
<use href="#m" x="1150.8" y="223.7"/>
<use href="#m" x="1102.7" y="231.2"/>
<use href="#m" x="1107.8" y="236.8"/>
<use href="#m" x="1097.5" y="241.5"/>
<use href="#m" x="1089.1" y="245.2"/>
<use href="#m" x="1079.8" y="251.8"/>
<use href="#m" x="1089.1" y="252.7"/>
<use href="#m" x="1106.4" y="248.0"/>
<use href="#m" x="1097.5" y="258.3"/>
<use href="#m" x="1105.9" y="257.4"/>
<use href="#m" x="1082.1" y="264.9"/>
<use href="#m" x="1097.5" y="265.8"/>
<use href="#m" x="1079.3" y="271.4"/>
<use href="#m" x="1079.8" y="278.4"/>
<use href="#m" x="1106.4" y="272.8"/>
<use href="#m" x="1128.4" y="242.0"/>
<use href="#m" x="1181.6" y="249.0"/>
<use href="#m" x="1070.8" y="322.3"/>
<use href="#m" x="1070.8" y="381.0"/>
<use href="#m" x="1177.3" y="84.9"/>
<use href="#m" x="1186.7" y="89.1"/>
<use href="#m" x="1184.3" y="79.3"/>
<use href="#m" x="1196.5" y="83.0"/>
<use href="#m" x="1197.4" y="90.5"/>
<use href="#m" x="1187.1" y="96.1"/>
<use href="#m" x="1179.7" y="96.1"/>
<use href="#m" x="1179.7" y="105.5"/>
<use href="#m" x="1198.4" y="105.0"/>
<use href="#m" x="1208.2" y="105.9"/>
<use href="#m" x="1213.3" y="98.5"/>
<use href="#m" x="1204.9" y="97.1"/>
<use href="#m" x="1215.2" y="80.2"/>
<use href="#m" x="1221.3" y="87.7"/>
<use href="#m" x="1221.7" y="98.5"/>
<use href="#m" x="1221.7" y="116.7"/>
<use href="#m" x="1208.2" y="121.4"/>
<use href="#m" x="1195.1" y="117.6"/>
<use href="#m" x="1195.1" y="127.0"/>
<use href="#m" x="1180.6" y="120.4"/>
<use href="#m" x="1176.9" y="133.5"/>
<use href="#m" x="1182.0" y="142.4"/>
<use href="#m" x="1194.6" y="141.4"/>
<use href="#m" x="1187.1" y="112.0"/>
<use href="#m" x="1241.4" y="75.1"/>
<use href="#m" x="1239.5" y="85.8"/>
<use href="#m" x="1239.5" y="94.3"/>
<use href="#m" x="1239.5" y="99.9"/>
<use href="#m" x="1248.8" y="92.9"/>
<use href="#m" x="1254.0" y="84.4"/>
<use href="#m" x="1258.2" y="98.0"/>
<use href="#m" x="1248.8" y="103.6"/>
<use href="#m" x="1244.6" y="113.4"/>
<use href="#m" x="1251.6" y="113.4"/>
<use href="#m" x="1239.5" y="120.0"/>
<use href="#m" x="1240.0" y="128.4"/>
<use href="#m" x="1284.8" y="67.1"/>
<use href="#m" x="1283.9" y="79.3"/>
<use href="#m" x="1279.2" y="90.0"/>
<use href="#m" x="1287.1" y="88.6"/>
<use href="#m" x="1273.1" y="123.2"/>
<use href="#m" x="1283.9" y="124.6"/>
<use href="#m" x="1182.5" y="143.9"/>
<use href="#m" x="1184.3" y="148.1"/>
<use href="#m" x="1194.6" y="142.5"/>
<use href="#m" x="1212.9" y="156.0"/>
<use href="#m" x="1221.7" y="156.0"/>
<use href="#m" x="1195.6" y="171.4"/>
<use href="#m" x="1195.6" y="178.0"/>
<use href="#m" x="1221.7" y="170.5"/>
<use href="#m" x="1240.0" y="179.9"/>
<use href="#m" x="1221.7" y="190.1"/>
<use href="#m" x="1180.6" y="207.0"/>
<use href="#m" x="1199.8" y="213.5"/>
<use href="#m" x="1212.9" y="226.7"/>
<use href="#m" x="1212.9" y="236.5"/>
<use href="#m" x="1186.7" y="248.6"/>
<use href="#m" x="1196.0" y="251.9"/>
<use href="#m" x="1307.1" y="69.3"/>
<use href="#m" x="1329.1" y="71.2"/>
<use href="#m" x="1329.1" y="76.8"/>
<use href="#m" x="1340.7" y="74.4"/>
</g>
<rect x="1062.5" y="41.2" width="335.5" height="367.1" fill="none" stroke="#2a2a2a" stroke-width="2.4"/>
<line x1="1055.5" y1="408.3" x2="1062.5" y2="408.3" stroke="#222" stroke-width="2"/>
<text x="1048.0" y="416.9" font-size="27.5" text-anchor="end">7</text>
<line x1="1055.5" y1="355.9" x2="1062.5" y2="355.9" stroke="#222" stroke-width="2"/>
<text x="1048.0" y="364.5" font-size="27.5" text-anchor="end">8</text>
<line x1="1055.5" y1="303.4" x2="1062.5" y2="303.4" stroke="#222" stroke-width="2"/>
<text x="1048.0" y="312.0" font-size="27.5" text-anchor="end">9</text>
<line x1="1055.5" y1="251.0" x2="1062.5" y2="251.0" stroke="#222" stroke-width="2"/>
<text x="1048.0" y="259.6" font-size="27.5" text-anchor="end">10</text>
<line x1="1055.5" y1="198.5" x2="1062.5" y2="198.5" stroke="#222" stroke-width="2"/>
<text x="1048.0" y="207.1" font-size="27.5" text-anchor="end">11</text>
<line x1="1055.5" y1="146.1" x2="1062.5" y2="146.1" stroke="#222" stroke-width="2"/>
<text x="1048.0" y="154.7" font-size="27.5" text-anchor="end">12</text>
<line x1="1055.5" y1="93.6" x2="1062.5" y2="93.6" stroke="#222" stroke-width="2"/>
<text x="1048.0" y="102.2" font-size="27.5" text-anchor="end">13</text>
<line x1="1055.5" y1="41.2" x2="1062.5" y2="41.2" stroke="#222" stroke-width="2"/>
<text x="1048.0" y="49.8" font-size="27.5" text-anchor="end">14</text>
<line x1="1062.4" y1="408.3" x2="1062.4" y2="414.8" stroke="#222" stroke-width="2"/>
<text x="1062.4" y="440.6" font-size="27.5" text-anchor="middle">0</text>
<line x1="1158.6" y1="408.3" x2="1158.6" y2="414.8" stroke="#222" stroke-width="2"/>
<text x="1158.6" y="440.6" font-size="27.5" text-anchor="middle">100</text>
<line x1="1254.8" y1="408.3" x2="1254.8" y2="414.8" stroke="#222" stroke-width="2"/>
<text x="1254.8" y="440.6" font-size="27.5" text-anchor="middle">200</text>
<line x1="1351.0" y1="408.3" x2="1351.0" y2="414.8" stroke="#222" stroke-width="2"/>
<text x="1351.0" y="440.6" font-size="27.5" text-anchor="middle">300</text>
<text transform="translate(64.5,224.8) rotate(-90)" font-size="30.5" text-anchor="middle" style="stroke-width:0.1px">log(Accumulated Winds)</text>
<text transform="translate(31.5,224.8) rotate(-90)" font-size="29.5" text-anchor="middle" letter-spacing="1.1" style="stroke-width:0.1px">[m s<tspan font-size="22" dy="-11.5" dx="2" letter-spacing="3">−1</tspan><tspan dy="11.5" dx="0">]</tspan></text>
<clipPath id="cD"><rect x="122.0" y="519.0" width="335.5" height="366.7"/></clipPath>
<g clip-path="url(#cD)">
<use href="#m" x="192.7" y="593.5"/>
<use href="#m" x="192.7" y="597.5"/>
<use href="#m" x="192.7" y="603.8"/>
<use href="#m" x="192.7" y="611.4"/>
<use href="#m" x="192.7" y="649.9"/>
<use href="#m" x="192.7" y="663.2"/>
<use href="#m" x="192.7" y="673.2"/>
<use href="#m" x="192.7" y="679.9"/>
<use href="#m" x="232.2" y="570.5"/>
<use href="#m" x="232.2" y="576.9"/>
<use href="#m" x="232.2" y="583.5"/>
<use href="#m" x="232.2" y="591.2"/>
<use href="#m" x="232.2" y="600.7"/>
<use href="#m" x="232.2" y="609.0"/>
<use href="#m" x="232.2" y="613.8"/>
<use href="#m" x="232.2" y="620.9"/>
<use href="#m" x="232.2" y="624.5"/>
<use href="#m" x="232.2" y="629.2"/>
<use href="#m" x="232.2" y="638.0"/>
<use href="#m" x="232.2" y="645.9"/>
<use href="#m" x="232.2" y="654.2"/>
<use href="#m" x="232.2" y="662.5"/>
<use href="#m" x="232.2" y="670.4"/>
<use href="#m" x="232.2" y="680.4"/>
<use href="#m" x="232.2" y="687.5"/>
<use href="#m" x="232.2" y="731.0"/>
<use href="#m" x="244.5" y="600.7"/>
<use href="#m" x="268.3" y="574.5"/>
<use href="#m" x="268.3" y="581.6"/>
<use href="#m" x="268.3" y="588.1"/>
<use href="#m" x="268.3" y="597.1"/>
<use href="#m" x="268.3" y="604.7"/>
<use href="#m" x="268.3" y="618.5"/>
<use href="#m" x="268.3" y="625.7"/>
<use href="#m" x="268.3" y="634.0"/>
<use href="#m" x="268.3" y="641.8"/>
<use href="#m" x="268.3" y="651.8"/>
<use href="#m" x="268.3" y="661.8"/>
<use href="#m" x="268.3" y="672.0"/>
<use href="#m" x="303.5" y="581.6"/>
<use href="#m" x="303.5" y="589.5"/>
<use href="#m" x="303.5" y="604.2"/>
<use href="#m" x="303.5" y="609.0"/>
<use href="#m" x="303.5" y="613.3"/>
<use href="#m" x="303.5" y="622.1"/>
<use href="#m" x="303.5" y="630.0"/>
<use href="#m" x="343.3" y="569.7"/>
<use href="#m" x="343.3" y="586.4"/>
<use href="#m" x="343.3" y="599.5"/>
<use href="#m" x="343.3" y="606.1"/>
<use href="#m" x="343.3" y="622.1"/>
<use href="#m" x="343.3" y="630.4"/>
<use href="#m" x="343.3" y="645.9"/>
<use href="#m" x="343.3" y="655.4"/>
<use href="#m" x="348.0" y="595.9"/>
<use href="#m" x="378.2" y="585.2"/>
<use href="#m" x="378.2" y="643.5"/>
<use href="#m" x="378.2" y="645.9"/>
<use href="#m" x="438.0" y="581.2"/>
<use href="#m" x="216.5" y="685.6"/>
<use href="#m" x="216.5" y="699.9"/>
<use href="#m" x="157.7" y="738.2"/>
</g>
<rect x="122.0" y="519.0" width="335.5" height="366.7" fill="none" stroke="#2a2a2a" stroke-width="2.4"/>
<line x1="115.0" y1="885.7" x2="122.0" y2="885.7" stroke="#222" stroke-width="2"/>
<text x="107.5" y="894.3" font-size="27.5" text-anchor="end">7</text>
<line x1="115.0" y1="833.3" x2="122.0" y2="833.3" stroke="#222" stroke-width="2"/>
<text x="107.5" y="841.9" font-size="27.5" text-anchor="end">8</text>
<line x1="115.0" y1="780.9" x2="122.0" y2="780.9" stroke="#222" stroke-width="2"/>
<text x="107.5" y="789.5" font-size="27.5" text-anchor="end">9</text>
<line x1="115.0" y1="728.5" x2="122.0" y2="728.5" stroke="#222" stroke-width="2"/>
<text x="107.5" y="737.1" font-size="27.5" text-anchor="end">10</text>
<line x1="115.0" y1="676.2" x2="122.0" y2="676.2" stroke="#222" stroke-width="2"/>
<text x="107.5" y="684.8" font-size="27.5" text-anchor="end">11</text>
<line x1="115.0" y1="623.8" x2="122.0" y2="623.8" stroke="#222" stroke-width="2"/>
<text x="107.5" y="632.4" font-size="27.5" text-anchor="end">12</text>
<line x1="115.0" y1="571.4" x2="122.0" y2="571.4" stroke="#222" stroke-width="2"/>
<text x="107.5" y="580.0" font-size="27.5" text-anchor="end">13</text>
<line x1="115.0" y1="519.0" x2="122.0" y2="519.0" stroke="#222" stroke-width="2"/>
<text x="107.5" y="527.6" font-size="27.5" text-anchor="end">14</text>
<line x1="122.0" y1="885.7" x2="122.0" y2="892.2" stroke="#222" stroke-width="2"/>
<text x="122.0" y="918.0" font-size="27.5" text-anchor="middle">0</text>
<line x1="201.0" y1="885.7" x2="201.0" y2="892.2" stroke="#222" stroke-width="2"/>
<text x="201.0" y="918.0" font-size="27.5" text-anchor="middle">20</text>
<line x1="280.0" y1="885.7" x2="280.0" y2="892.2" stroke="#222" stroke-width="2"/>
<text x="280.0" y="918.0" font-size="27.5" text-anchor="middle">40</text>
<line x1="359.0" y1="885.7" x2="359.0" y2="892.2" stroke="#222" stroke-width="2"/>
<text x="359.0" y="918.0" font-size="27.5" text-anchor="middle">60</text>
<line x1="438.0" y1="885.7" x2="438.0" y2="892.2" stroke="#222" stroke-width="2"/>
<text x="438.0" y="918.0" font-size="27.5" text-anchor="middle">80</text>
<text transform="translate(64.5,702.4) rotate(-90)" font-size="30.5" text-anchor="middle" style="stroke-width:0.1px">log(Accumulated Winds)</text>
<text transform="translate(31.5,702.4) rotate(-90)" font-size="29.5" text-anchor="middle" letter-spacing="1.1" style="stroke-width:0.1px">[m s<tspan font-size="22" dy="-11.5" dx="2" letter-spacing="3">−1</tspan><tspan dy="11.5" dx="0">]</tspan></text>
<clipPath id="cE"><rect x="592.3" y="519.0" width="335.7" height="366.7"/></clipPath>
<g clip-path="url(#cE)">
<use href="#m" x="720.5" y="636.9"/>
<use href="#m" x="714.5" y="620.4"/>
<use href="#m" x="704.0" y="645.9"/>
<use href="#m" x="687.5" y="641.4"/>
<use href="#m" x="734.0" y="606.9"/>
<use href="#m" x="728.0" y="638.4"/>
<use href="#m" x="705.5" y="624.9"/>
<use href="#m" x="687.5" y="632.4"/>
<use href="#m" x="735.5" y="615.9"/>
<use href="#m" x="728.0" y="611.4"/>
<use href="#m" x="699.5" y="639.9"/>
<use href="#m" x="743.0" y="615.9"/>
<use href="#m" x="806.8" y="582.8"/>
<use href="#m" x="832.3" y="593.3"/>
<use href="#m" x="603.1" y="730.7"/>
<use href="#m" x="616.5" y="699.9"/>
<use href="#m" x="643.4" y="672.5"/>
<use href="#m" x="642.5" y="680.2"/>
<use href="#m" x="638.2" y="686.2"/>
<use href="#m" x="636.5" y="682.7"/>
<use href="#m" x="659.6" y="669.9"/>
<use href="#m" x="669.9" y="672.5"/>
<use href="#m" x="663.1" y="659.6"/>
<use href="#m" x="675.9" y="662.2"/>
<use href="#m" x="681.9" y="662.2"/>
<use href="#m" x="685.3" y="653.6"/>
<use href="#m" x="691.3" y="648.5"/>
<use href="#m" x="694.7" y="645.1"/>
<use href="#m" x="695.6" y="630.5"/>
<use href="#m" x="702.4" y="654.5"/>
<use href="#m" x="706.7" y="638.2"/>
<use href="#m" x="701.6" y="631.4"/>
<use href="#m" x="711.9" y="633.1"/>
<use href="#m" x="714.4" y="646.8"/>
<use href="#m" x="725.6" y="645.1"/>
<use href="#m" x="719.6" y="626.2"/>
<use href="#m" x="728.1" y="629.7"/>
<use href="#m" x="729.0" y="618.5"/>
<use href="#m" x="722.1" y="620.2"/>
<use href="#m" x="736.7" y="634.8"/>
<use href="#m" x="734.1" y="624.5"/>
<use href="#m" x="744.4" y="622.8"/>
<use href="#m" x="753.8" y="622.0"/>
<use href="#m" x="749.5" y="612.5"/>
<use href="#m" x="744.4" y="600.5"/>
<use href="#m" x="756.4" y="602.3"/>
<use href="#m" x="768.4" y="604.0"/>
<use href="#m" x="768.4" y="595.4"/>
<use href="#m" x="759.8" y="597.1"/>
<use href="#m" x="741.0" y="609.1"/>
<use href="#m" x="759.8" y="616.0"/>
<use href="#m" x="745.1" y="600.4"/>
<use href="#m" x="756.6" y="598.5"/>
<use href="#m" x="770.7" y="595.3"/>
<use href="#m" x="770.7" y="603.6"/>
<use href="#m" x="778.4" y="599.1"/>
<use href="#m" x="788.0" y="595.9"/>
<use href="#m" x="792.4" y="588.9"/>
<use href="#m" x="788.6" y="605.5"/>
<use href="#m" x="750.2" y="612.5"/>
<use href="#m" x="754.1" y="618.3"/>
<use href="#m" x="767.5" y="608.7"/>
<use href="#m" x="814.2" y="581.2"/>
<use href="#m" x="821.8" y="581.2"/>
<use href="#m" x="809.7" y="590.2"/>
<use href="#m" x="819.9" y="592.7"/>
<use href="#m" x="827.0" y="587.6"/>
<use href="#m" x="827.6" y="598.5"/>
<use href="#m" x="840.4" y="583.8"/>
<use href="#m" x="842.3" y="587.0"/>
<use href="#m" x="845.5" y="574.2"/>
<use href="#m" x="874.9" y="569.7"/>
<use href="#m" x="874.9" y="577.4"/>
<use href="#m" x="885.1" y="581.2"/>
<use href="#m" x="896.6" y="569.7"/>
</g>
<rect x="592.3" y="519.0" width="335.7" height="366.7" fill="none" stroke="#2a2a2a" stroke-width="2.4"/>
<line x1="585.3" y1="885.7" x2="592.3" y2="885.7" stroke="#222" stroke-width="2"/>
<text x="577.8" y="894.3" font-size="27.5" text-anchor="end">7</text>
<line x1="585.3" y1="833.3" x2="592.3" y2="833.3" stroke="#222" stroke-width="2"/>
<text x="577.8" y="841.9" font-size="27.5" text-anchor="end">8</text>
<line x1="585.3" y1="780.9" x2="592.3" y2="780.9" stroke="#222" stroke-width="2"/>
<text x="577.8" y="789.5" font-size="27.5" text-anchor="end">9</text>
<line x1="585.3" y1="728.5" x2="592.3" y2="728.5" stroke="#222" stroke-width="2"/>
<text x="577.8" y="737.1" font-size="27.5" text-anchor="end">10</text>
<line x1="585.3" y1="676.2" x2="592.3" y2="676.2" stroke="#222" stroke-width="2"/>
<text x="577.8" y="684.8" font-size="27.5" text-anchor="end">11</text>
<line x1="585.3" y1="623.8" x2="592.3" y2="623.8" stroke="#222" stroke-width="2"/>
<text x="577.8" y="632.4" font-size="27.5" text-anchor="end">12</text>
<line x1="585.3" y1="571.4" x2="592.3" y2="571.4" stroke="#222" stroke-width="2"/>
<text x="577.8" y="580.0" font-size="27.5" text-anchor="end">13</text>
<line x1="585.3" y1="519.0" x2="592.3" y2="519.0" stroke="#222" stroke-width="2"/>
<text x="577.8" y="527.6" font-size="27.5" text-anchor="end">14</text>
<line x1="601.2" y1="885.7" x2="601.2" y2="892.2" stroke="#222" stroke-width="2"/>
<text x="601.2" y="918.0" font-size="27.5" text-anchor="middle">100</text>
<line x1="694.6" y1="885.7" x2="694.6" y2="892.2" stroke="#222" stroke-width="2"/>
<text x="694.6" y="918.0" font-size="27.5" text-anchor="middle">200</text>
<line x1="788.0" y1="885.7" x2="788.0" y2="892.2" stroke="#222" stroke-width="2"/>
<text x="788.0" y="918.0" font-size="27.5" text-anchor="middle">300</text>
<line x1="881.5" y1="885.7" x2="881.5" y2="892.2" stroke="#222" stroke-width="2"/>
<text x="881.5" y="918.0" font-size="27.5" text-anchor="middle">400</text>
<text transform="translate(64.5,702.4) rotate(-90)" font-size="30.5" text-anchor="middle" style="stroke-width:0.1px">log(Accumulated Winds)</text>
<text transform="translate(31.5,702.4) rotate(-90)" font-size="29.5" text-anchor="middle" letter-spacing="1.1" style="stroke-width:0.1px">[m s<tspan font-size="22" dy="-11.5" dx="2" letter-spacing="3">−1</tspan><tspan dy="11.5" dx="0">]</tspan></text>
<clipPath id="cF"><rect x="1062.5" y="519.0" width="335.5" height="366.7"/></clipPath>
<g clip-path="url(#cF)">
<use href="#m" x="1163.2" y="654.0"/>
<use href="#m" x="1181.2" y="631.5"/>
<use href="#m" x="1128.7" y="637.5"/>
<use href="#m" x="1226.2" y="607.5"/>
<use href="#m" x="1115.2" y="655.5"/>
<use href="#m" x="1110.7" y="664.5"/>
<use href="#m" x="1160.2" y="624.0"/>
<use href="#m" x="1185.7" y="618.0"/>
<use href="#m" x="1206.7" y="619.5"/>
<use href="#m" x="1143.7" y="652.5"/>
<use href="#m" x="1214.2" y="603.0"/>
<use href="#m" x="1151.2" y="640.5"/>
<use href="#m" x="1194.7" y="640.5"/>
<use href="#m" x="1112.2" y="682.5"/>
<use href="#m" x="1151.2" y="625.5"/>
<use href="#m" x="1227.7" y="619.5"/>
<use href="#m" x="1104.7" y="670.5"/>
<use href="#m" x="1178.2" y="639.0"/>
<use href="#m" x="1106.5" y="700.2"/>
<use href="#m" x="1106.2" y="688.0"/>
<use href="#m" x="1103.2" y="679.9"/>
<use href="#m" x="1113.6" y="672.5"/>
<use href="#m" x="1120.4" y="680.6"/>
<use href="#m" x="1120.4" y="669.8"/>
<use href="#m" x="1119.7" y="662.4"/>
<use href="#m" x="1127.8" y="662.4"/>
<use href="#m" x="1120.4" y="646.8"/>
<use href="#m" x="1127.8" y="650.2"/>
<use href="#m" x="1135.2" y="653.6"/>
<use href="#m" x="1141.3" y="661.0"/>
<use href="#m" x="1141.3" y="643.5"/>
<use href="#m" x="1141.3" y="634.0"/>
<use href="#m" x="1142.0" y="630.0"/>
<use href="#m" x="1150.1" y="661.0"/>
<use href="#m" x="1152.1" y="652.9"/>
<use href="#m" x="1157.5" y="646.8"/>
<use href="#m" x="1156.8" y="633.3"/>
<use href="#m" x="1163.6" y="638.1"/>
<use href="#m" x="1171.0" y="635.4"/>
<use href="#m" x="1171.0" y="646.2"/>
<use href="#m" x="1184.5" y="644.1"/>
<use href="#m" x="1170.3" y="622.5"/>
<use href="#m" x="1178.4" y="621.9"/>
<use href="#m" x="1191.9" y="630.0"/>
<use href="#m" x="1195.3" y="615.8"/>
<use href="#m" x="1200.7" y="625.9"/>
<use href="#m" x="1200.7" y="633.3"/>
<use href="#m" x="1211.5" y="611.7"/>
<use href="#m" x="1212.2" y="631.3"/>
<use href="#m" x="1219.6" y="626.6"/>
<use href="#m" x="1221.0" y="613.8"/>
<use href="#m" x="1233.1" y="613.1"/>
<use href="#m" x="1234.5" y="603.6"/>
<use href="#m" x="1219.6" y="596.9"/>
<use href="#m" x="1227.7" y="593.5"/>
<use href="#m" x="1247.3" y="608.4"/>
<use href="#m" x="1071.5" y="730.9"/>
<use href="#m" x="1071.5" y="738.1"/>
<use href="#m" x="1248.2" y="608.0"/>
<use href="#m" x="1262.5" y="591.3"/>
<use href="#m" x="1284.0" y="569.8"/>
<use href="#m" x="1275.6" y="611.6"/>
<use href="#m" x="1275.6" y="604.4"/>
<use href="#m" x="1280.4" y="600.9"/>
<use href="#m" x="1297.1" y="587.7"/>
<use href="#m" x="1305.4" y="583.0"/>
<use href="#m" x="1303.0" y="599.7"/>
<use href="#m" x="1318.6" y="577.0"/>
<use href="#m" x="1318.6" y="581.8"/>
<use href="#m" x="1318.6" y="594.9"/>
<use href="#m" x="1318.6" y="602.1"/>
<use href="#m" x="1329.3" y="585.3"/>
<use href="#m" x="1350.8" y="583.0"/>
<use href="#m" x="1359.1" y="586.5"/>
<use href="#m" x="1353.2" y="588.9"/>
<use href="#m" x="1389.0" y="581.8"/>
</g>
<rect x="1062.5" y="519.0" width="335.5" height="366.7" fill="none" stroke="#2a2a2a" stroke-width="2.4"/>
<line x1="1055.5" y1="885.7" x2="1062.5" y2="885.7" stroke="#222" stroke-width="2"/>
<text x="1048.0" y="894.3" font-size="27.5" text-anchor="end">7</text>
<line x1="1055.5" y1="833.3" x2="1062.5" y2="833.3" stroke="#222" stroke-width="2"/>
<text x="1048.0" y="841.9" font-size="27.5" text-anchor="end">8</text>
<line x1="1055.5" y1="780.9" x2="1062.5" y2="780.9" stroke="#222" stroke-width="2"/>
<text x="1048.0" y="789.5" font-size="27.5" text-anchor="end">9</text>
<line x1="1055.5" y1="728.5" x2="1062.5" y2="728.5" stroke="#222" stroke-width="2"/>
<text x="1048.0" y="737.1" font-size="27.5" text-anchor="end">10</text>
<line x1="1055.5" y1="676.2" x2="1062.5" y2="676.2" stroke="#222" stroke-width="2"/>
<text x="1048.0" y="684.8" font-size="27.5" text-anchor="end">11</text>
<line x1="1055.5" y1="623.8" x2="1062.5" y2="623.8" stroke="#222" stroke-width="2"/>
<text x="1048.0" y="632.4" font-size="27.5" text-anchor="end">12</text>
<line x1="1055.5" y1="571.4" x2="1062.5" y2="571.4" stroke="#222" stroke-width="2"/>
<text x="1048.0" y="580.0" font-size="27.5" text-anchor="end">13</text>
<line x1="1055.5" y1="519.0" x2="1062.5" y2="519.0" stroke="#222" stroke-width="2"/>
<text x="1048.0" y="527.6" font-size="27.5" text-anchor="end">14</text>
<line x1="1077.3" y1="885.7" x2="1077.3" y2="892.2" stroke="#222" stroke-width="2"/>
<text x="1077.3" y="918.0" font-size="27.5" text-anchor="middle">50</text>
<line x1="1154.4" y1="885.7" x2="1154.4" y2="892.2" stroke="#222" stroke-width="2"/>
<text x="1154.4" y="918.0" font-size="27.5" text-anchor="middle">100</text>
<line x1="1231.5" y1="885.7" x2="1231.5" y2="892.2" stroke="#222" stroke-width="2"/>
<text x="1231.5" y="918.0" font-size="27.5" text-anchor="middle">150</text>
<line x1="1308.6" y1="885.7" x2="1308.6" y2="892.2" stroke="#222" stroke-width="2"/>
<text x="1308.6" y="918.0" font-size="27.5" text-anchor="middle">200</text>
<line x1="1385.7" y1="885.7" x2="1385.7" y2="892.2" stroke="#222" stroke-width="2"/>
<text x="1385.7" y="918.0" font-size="27.5" text-anchor="middle">250</text>
<text transform="translate(64.5,702.4) rotate(-90)" font-size="30.5" text-anchor="middle" style="stroke-width:0.1px">log(Accumulated Winds)</text>
<text transform="translate(31.5,702.4) rotate(-90)" font-size="29.5" text-anchor="middle" letter-spacing="1.1" style="stroke-width:0.1px">[m s<tspan font-size="22" dy="-11.5" dx="2" letter-spacing="3">−1</tspan><tspan dy="11.5" dx="0">]</tspan></text>
<text x="290.8" y="28.6" font-size="34" text-anchor="middle">RMW</text>
<text x="761.1" y="28.6" font-size="34" text-anchor="middle">R34</text>
<text x="1231.2" y="28.6" font-size="34" text-anchor="middle">R50</text>
<text x="289.8" y="952.5" font-size="31" text-anchor="middle">RMW [km]</text>
<text x="760.1" y="952.5" font-size="31" text-anchor="middle">R34 [km]</text>
<text x="1230.2" y="952.5" font-size="31" text-anchor="middle">R50 [km]</text>
<text x="0" y="54" font-size="29.5" font-weight="bold">A</text>
<text x="488.5" y="54" font-size="29.5" font-weight="bold">B</text>
<text x="954.5" y="54" font-size="29.5" font-weight="bold">C</text>
<text x="0" y="531" font-size="29.5" font-weight="bold">D</text>
<text x="488.5" y="531" font-size="29.5" font-weight="bold">E</text>
<text x="955.5" y="531" font-size="29.5" font-weight="bold">F</text>
<text x="332" y="303.2" font-size="32" font-style="italic" letter-spacing="2.6">r=0.23</text>
<text x="757" y="303.2" font-size="32" font-style="italic" letter-spacing="2.6">r=0.84</text>
<text x="1254" y="303.2" font-size="32" font-style="italic" letter-spacing="2.6">r=0.67</text>
<text x="318.5" y="781" font-size="32" font-style="italic" letter-spacing="2.6">r=0.31</text>
<text x="788" y="781" font-size="32" font-style="italic" letter-spacing="2.6">r=0.96</text>
<text x="1229.5" y="781" font-size="32" font-style="italic" letter-spacing="2.6">r=0.95</text>
<text x="144" y="391.8" font-size="30.5">MWS=55 knots</text>
<text x="141.5" y="870" font-size="30.5">MWS=105 knots</text>
</svg></body></html>
